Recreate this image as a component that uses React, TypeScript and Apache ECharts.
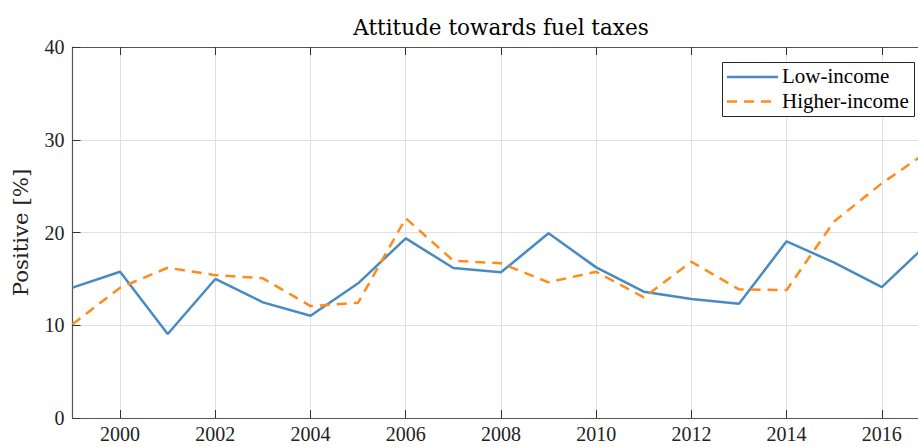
import React, { useEffect, useRef } from "react";
import * as echarts from "echarts";

const years = [1999, 2000, 2001, 2002, 2003, 2004, 2005, 2006, 2007, 2008, 2009, 2010, 2011, 2012, 2013, 2014, 2015, 2016, 2017];
const lowIncome = [14.05, 15.77, 9.06, 14.99, 12.47, 11.03, 14.52, 19.37, 16.17, 15.71, 19.91, 16.24, 13.62, 12.83, 12.32, 19.05, 16.75, 14.12, 18.97];
const higherIncome = [10.1, 14.05, 16.2, 15.4, 15.06, 12.07, 12.43, 21.53, 16.96, 16.68, 14.63, 15.77, 13.0, 16.85, 13.87, 13.8, 21.2, 25.3, 28.84];
const xTicks = [2000, 2002, 2004, 2006, 2008, 2010, 2012, 2014, 2016];
const yTicks = [0, 10, 20, 30, 40];
const seriesNames = ["Low-income", "Higher-income"];
const seriesColors = ["#4a8ac3", "#ff8c1a"];
const titleText = "Attitude towards fuel taxes";
const yLabel = "Positive [%]";
const xMin = 1999;
const xMax = 2016.76;

const FONT = "'Liberation Serif', 'Times New Roman', serif";
const WIDE = "'DejaVu Serif', serif";
const DASH = [10, 7];

export default function App() {
  const ref = useRef<HTMLDivElement>(null);
  useEffect(() => {
    if (!ref.current) return;
    const chart = echarts.init(ref.current, undefined, { renderer: "svg" });
    const axisColor = "#555555";
    const legendItems = seriesNames.flatMap((name, i) => {
      const y = 77 + i * 24.5;
      return [
        {
          type: "line",
          shape: { x1: 727, y1: y, x2: 778, y2: y },
          style: { stroke: seriesColors[i], lineWidth: 2.5, lineDash: i === 1 ? DASH : null },
          z: 101,
        },
        {
          type: "text",
          x: 782,
          y: y - 1,
          style: {
            text: name,
            fontFamily: FONT,
            fontSize: 21,
            fill: "#000",
            textVerticalAlign: "middle",
          },
          z: 101,
        },
      ];
    });
    chart.setOption({
      animation: false,
      backgroundColor: "#ffffff",
      textStyle: { fontFamily: FONT },
      graphic: [
        {
          type: "text",
          x: 501,
          y: 27,
          style: {
            text: titleText,
            textAlign: "center",
            textVerticalAlign: "middle",
            fontFamily: WIDE,
            fontSize: 21.5,
            fill: "#000",
          },
        },
        {
          type: "rect",
          shape: { x: 722.5, y: 62.5, width: 192, height: 54 },
          style: { fill: "#fff", stroke: "#262626", lineWidth: 1 },
          z: 100,
        },
        ...legendItems,
      ],
      grid: { left: 72.5, right: 0, top: 47, bottom: 29, containLabel: false },
      xAxis: [
        {
          type: "value",
          min: xMin,
          max: xMax,
          position: "bottom",
          axisLine: { show: true, onZero: false, lineStyle: { color: axisColor, width: 1.2 } },
          axisTick: { show: true, inside: true, length: 8, customValues: xTicks, lineStyle: { color: "#333" } },
          axisLabel: {
            customValues: xTicks,
            formatter: (v: number) => String(v),
            fontFamily: FONT,
            fontSize: 20,
            color: "#222",
            margin: 6,
          },
          splitLine: { show: true, lineStyle: { color: "#e0e0e0", width: 1 } },
        },
        {
          type: "value",
          min: xMin,
          max: xMax,
          position: "top",
          axisLine: { show: true, onZero: false, lineStyle: { color: axisColor, width: 1.2 } },
          axisTick: { show: true, inside: true, length: 8, customValues: xTicks, lineStyle: { color: "#333" } },
          axisLabel: { show: false },
          splitLine: { show: false },
        },
      ],
      yAxis: {
        type: "value",
        min: 0,
        max: 40,
        interval: 10,
        name: yLabel,
        nameLocation: "middle",
        nameGap: 42,
        nameTextStyle: { fontFamily: WIDE, fontSize: 21.3, color: "#222" },
        axisLine: { show: true, lineStyle: { color: axisColor, width: 1.2 } },
        axisTick: { show: true, inside: true, length: 8, lineStyle: { color: "#333" } },
        axisLabel: {
          customValues: yTicks,
          formatter: (v: number) => String(v),
          fontFamily: FONT,
          fontSize: 20,
          color: "#222",
          margin: 8,
        },
        splitLine: { show: true, lineStyle: { color: "#e0e0e0", width: 1 } },
      },
      series: [
        {
          name: seriesNames[0],
          type: "line",
          clip: true,
          data: years.map((y, i) => [y, lowIncome[i]]),
          symbol: "none",
          lineStyle: { color: seriesColors[0], width: 2.5 },
          itemStyle: { color: seriesColors[0] },
        },
        {
          name: seriesNames[1],
          type: "line",
          clip: true,
          data: years.map((y, i) => [y, higherIncome[i]]),
          symbol: "none",
          lineStyle: { color: seriesColors[1], width: 2.5, type: DASH },
          itemStyle: { color: seriesColors[1] },
        },
      ],
    });
    return () => chart.dispose();
  }, []);
  return (
    <div
      ref={ref}
      style={{ position: "fixed", left: 0, top: 0, width: 918, height: 447 }}
    />
  );
}
